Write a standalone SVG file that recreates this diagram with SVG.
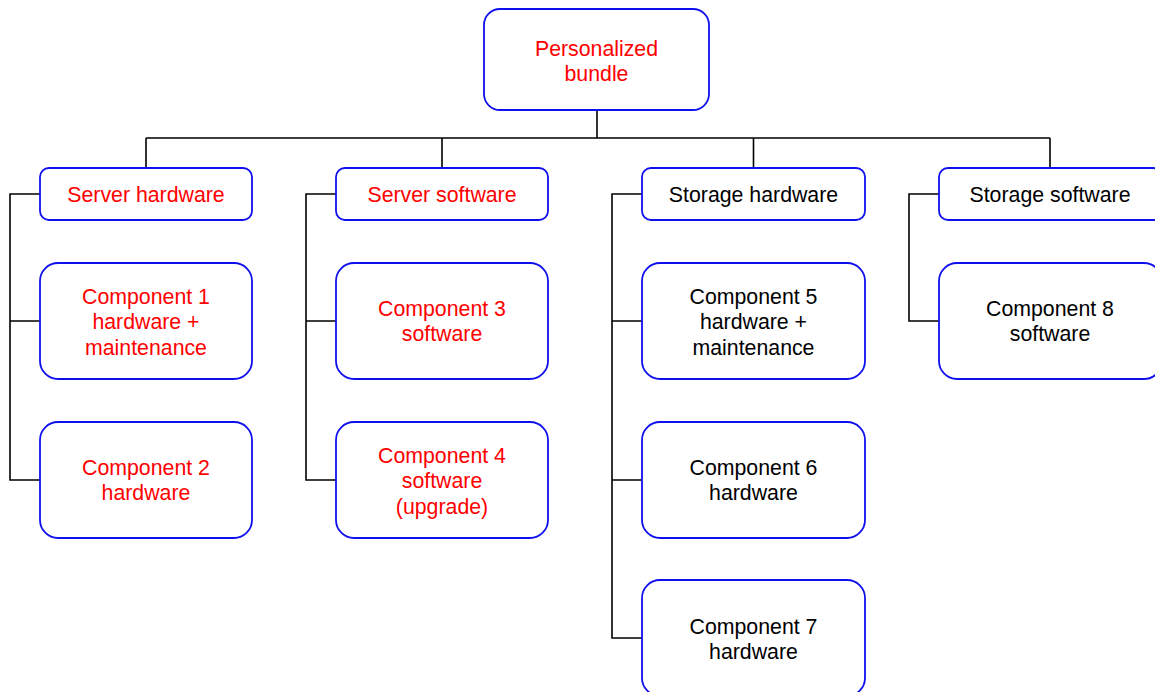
<svg xmlns="http://www.w3.org/2000/svg" width="1155" height="692" viewBox="0 0 1155 692">
<style>
.box{fill:#fff;stroke:#1010ee;stroke-width:1.8}
.t{font-family:"Liberation Sans",Arial,sans-serif;font-size:21.3px;text-anchor:middle}
.r{fill:#ff0000}
.k{fill:#000}
.c{fill:none;stroke:#000;stroke-width:1.6}
</style>
<rect width="1155" height="692" fill="#fff"/>
<g id="connectors">
<path class="c" d="M597 110V138M146 138H1050M146 138V168M442 138V168M753.5 138V168M1050 138V168"/>
<path class="c" d="M40 194H10V480H40M10 321H40"/>
<path class="c" d="M336 194H306V480H336M306 321H336"/>
<path class="c" d="M642 194H612V638H642M612 321H642M612 480H642"/>
<path class="c" d="M939 194H909V321H939"/>
</g>
<g id="root"><rect class="box" x="484" y="9" width="225" height="101" rx="16"/><text class="t r" x="596.5" y="56">Personalized</text><text class="t r" x="596.5" y="81">bundle</text></g>
<g id="server-hardware"><rect class="box" x="40" y="168" width="212" height="52" rx="9"/><text class="t r" x="146" y="202">Server hardware</text></g>
<g id="server-software"><rect class="box" x="336" y="168" width="212" height="52" rx="9"/><text class="t r" x="442" y="202">Server software</text></g>
<g id="storage-hardware"><rect class="box" x="642" y="168" width="223" height="52" rx="9"/><text class="t k" x="753.5" y="202">Storage hardware</text></g>
<g id="storage-software"><rect class="box" x="939" y="168" width="223" height="52" rx="9"/><text class="t k" x="1050" y="202">Storage software</text></g>
<g id="component-1"><rect class="box" x="40" y="263" width="212" height="116" rx="18"/><text class="t r" x="146" y="304">Component 1</text><text class="t r" x="146" y="329">hardware +</text><text class="t r" x="146" y="355">maintenance</text></g>
<g id="component-2"><rect class="box" x="40" y="422" width="212" height="116" rx="18"/><text class="t r" x="146" y="475">Component 2</text><text class="t r" x="146" y="500">hardware</text></g>
<g id="component-3"><rect class="box" x="336" y="263" width="212" height="116" rx="18"/><text class="t r" x="442" y="316">Component 3</text><text class="t r" x="442" y="341">software</text></g>
<g id="component-4"><rect class="box" x="336" y="422" width="212" height="116" rx="18"/><text class="t r" x="442" y="463">Component 4</text><text class="t r" x="442" y="488">software</text><text class="t r" x="442" y="514">(upgrade)</text></g>
<g id="component-5"><rect class="box" x="642" y="263" width="223" height="116" rx="18"/><text class="t k" x="753.5" y="304">Component 5</text><text class="t k" x="753.5" y="329">hardware +</text><text class="t k" x="753.5" y="355">maintenance</text></g>
<g id="component-6"><rect class="box" x="642" y="422" width="223" height="116" rx="18"/><text class="t k" x="753.5" y="475">Component 6</text><text class="t k" x="753.5" y="500">hardware</text></g>
<g id="component-7"><rect class="box" x="642" y="580" width="223" height="116" rx="18"/><text class="t k" x="753.5" y="634">Component 7</text><text class="t k" x="753.5" y="659">hardware</text></g>
<g id="component-8"><rect class="box" x="939" y="263" width="223" height="116" rx="18"/><text class="t k" x="1050" y="316">Component 8</text><text class="t k" x="1050" y="341">software</text></g>
</svg>
